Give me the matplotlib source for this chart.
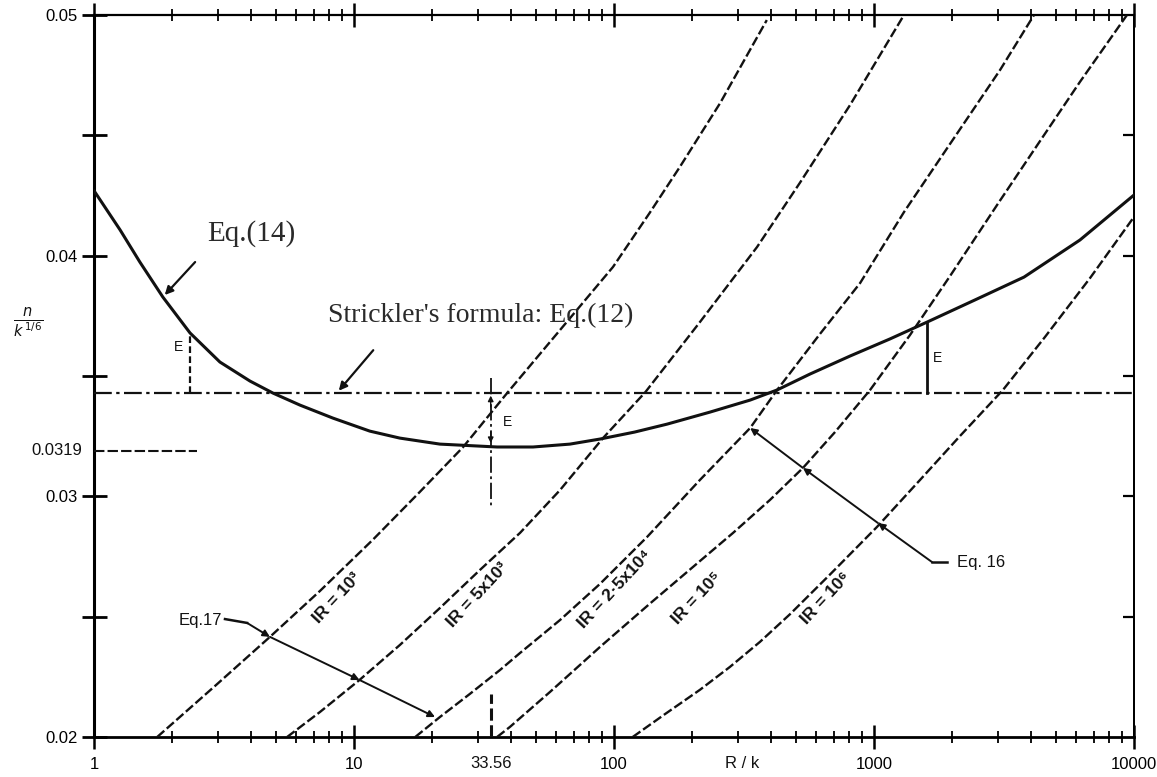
import matplotlib
matplotlib.use('Agg')  # no display
import matplotlib.pyplot as plt
from matplotlib.ticker import FixedLocator, LogLocator, NullFormatter

# Eq.(14): n / k^(1/6) against R / k
r_eq14 = [1, 1.26, 1.5, 1.84, 2.34, 3.05, 3.98, 4.88, 6.2, 8.3, 11.5, 15.0,
          21.4, 35.5, 48.8, 67.7, 88.3, 120, 160, 234, 334, 424, 567, 809,
          1152, 1600, 2445, 3776, 6195, 10000]
n_eq14 = [0.0427, 0.04107, 0.03974, 0.03828, 0.03679, 0.03558, 0.03479,
          0.03429, 0.03379, 0.03325, 0.03271, 0.03242, 0.03217, 0.03205,
          0.03205, 0.03217, 0.03238, 0.03267, 0.03300, 0.03350, 0.03400,
          0.03442, 0.03508, 0.03583, 0.03654, 0.03724, 0.03816, 0.03911,
          0.04065, 0.04252]

# Strickler's formula, Eq.(12)
strickler_n = 0.0343
n_min = 0.0319
r_min = 33.56

# Eq.16 family, one curve per IR value
ir_labels = ['IR = 10³', 'IR = 5x10³', 'IR = 2·5x10⁴', 'IR = 10⁵', 'IR = 10⁶']
r_ir1 = [1.75, 2.92, 4.75, 7.40, 11.8, 17.9, 26.3, 38.8, 62.0, 99.1, 137,
         179, 256, 387]
n_ir1 = [0.0200, 0.02212, 0.02416, 0.02607, 0.02819, 0.03018, 0.03205,
         0.03429, 0.03691, 0.03953, 0.04177, 0.04368, 0.04634, 0.04979]
r_ir2 = [5.53, 7.40, 10.5, 15.0, 21.4, 30.5, 43.5, 62.0, 90.7, 132, 214,
         355, 519, 809, 1304]
n_ir2 = [0.0200, 0.02104, 0.02237, 0.02382, 0.02536, 0.02694, 0.02848,
         0.03026, 0.03242, 0.03433, 0.03724, 0.04036, 0.04303, 0.04626, 0.0500]
r_ir3 = [17.2, 21.4, 27.9, 36.4, 43.5, 62.0, 88.3, 134, 214, 334, 424, 620,
         884, 1304, 1960, 3052, 4125]
n_ir3 = [0.0200, 0.02083, 0.02179, 0.02278, 0.02349, 0.02486, 0.02636,
         0.02831, 0.03068, 0.03284, 0.03442, 0.03675, 0.03886, 0.04181,
         0.04464, 0.04771, 0.0500]
r_ir4 = [35.5, 39.8, 56.7, 88.3, 137, 214, 287, 398, 533, 708, 966, 1375,
         1960, 3027, 4349, 6195, 9397]
n_ir4 = [0.0200, 0.02042, 0.02187, 0.02374, 0.02553, 0.02731, 0.02848,
         0.02985, 0.03118, 0.03267, 0.03442, 0.03670, 0.03915, 0.04223,
         0.04476, 0.04722, 0.0500]
r_ir5 = [118, 157, 214, 279, 364, 475, 677, 1027, 1503, 2143, 3133, 4545,
         6776, 10000]
n_ir5 = [0.0200, 0.02095, 0.02196, 0.02291, 0.02395, 0.02510, 0.02675,
         0.02873, 0.03068, 0.03251, 0.03442, 0.03662, 0.03907, 0.04161]

x_ticks = [1, 10, 100, 1000, 10000]
x_ticklabels = ['1', '10', '100', '1000', '10000']
y_ticks = [0.02, 0.025, 0.03, 0.035, 0.04, 0.045, 0.05]
y_ticklabels = ['0.02', '', '0.03', '', '0.04', '', '0.05']

SANS = ['Liberation Sans', 'DejaVu Sans']
SERIF = ['Liberation Serif', 'DejaVu Serif']
INK = '#111111'

fig = plt.figure(figsize=(11.57, 7.77), dpi=100)
ax = fig.add_axes([94 / 1157, 40 / 777, 1040 / 1157, 722 / 777])
ax.set_xscale('log')
ax.set_xlim(1, 10000)
ax.set_ylim(0.02, 0.05)

# curves
ax.plot(r_eq14, n_eq14, color=INK, lw=2.2, solid_capstyle='round',
        solid_joinstyle='round', zorder=4)
ax.axhline(strickler_n, color=INK, lw=1.6, linestyle=(0, (8, 2, 1.5, 2)), zorder=3)

ir_curves = [(r_ir1, n_ir1), (r_ir2, n_ir2), (r_ir3, n_ir3),
             (r_ir4, n_ir4), (r_ir5, n_ir5)]
for r, n in ir_curves:
    ax.plot(r, n, color=INK, lw=1.7, linestyle=(0, (4, 1.4)), zorder=3)

# curve labels sit on the curves
label_pos = [(8.6, 0.02575), (30.0, 0.0259), (101, 0.02615), (208, 0.02578), (650, 0.02578)]
for text, (xr, yn) in zip(ir_labels, label_pos):
    ax.text(xr, yn, text, rotation=47, ha='center', va='center', fontsize=12.5,
            fontweight='bold', family=SANS, color=INK, zorder=5,
            bbox=dict(facecolor='white', edgecolor='none', pad=0.5))

# 0.0319 marker on the left
ax.plot([1, 2.5], [n_min, n_min], color=INK, lw=1.5, linestyle=(0, (5, 1.5)), zorder=3)
ax.text(0.9, n_min, '0.0319', ha='right', va='center', fontsize=12,
        family=SANS, color=INK)

# E markers
ax.plot([2.33, 2.33], [strickler_n, 0.0368], color=INK, lw=1.6,
        linestyle=(0, (3, 1.5)), zorder=4)
ax.text(2.2, 0.0362, 'E', ha='right', va='center', fontsize=10, family=SANS, color=INK)

ax.plot([r_min, r_min], [0.0349, 0.0296], color=INK, lw=1.3,
        linestyle=(0, (9, 2, 1.5, 2)), zorder=4)
ax.annotate('', xy=(r_min, strickler_n), xytext=(r_min, 0.0336),
            arrowprops=dict(arrowstyle='-|>', color=INK, lw=1, mutation_scale=8))
ax.annotate('', xy=(r_min, 0.0321), xytext=(r_min, 0.0328),
            arrowprops=dict(arrowstyle='-|>', color=INK, lw=1, mutation_scale=8))
ax.text(37.5, 0.0331, 'E', ha='left', va='center', fontsize=10, family=SANS, color=INK)
ax.plot([r_min, r_min], [0.0200, 0.0218], color=INK, lw=2.2,
        linestyle=(0, (4, 1.5)), zorder=4)
ax.text(r_min, 0.0192, '33.56', ha='center', va='top', fontsize=12,
        family=SANS, color=INK)

ax.plot([1600, 1600], [strickler_n, 0.03724], color=INK, lw=2.0, zorder=4)
ax.text(1690, 0.03575, 'E', ha='left', va='center', fontsize=10, family=SANS, color=INK)

# Eq.(14) and Strickler labels
ax.text(2.72, 0.04094, 'Eq.(14)', ha='left', va='center', fontsize=21,
        family=SERIF, color='#2a2a2a')
ax.annotate('', xy=(1.84, 0.03828), xytext=(2.49, 0.03982),
            arrowprops=dict(arrowstyle='-|>', color=INK, lw=1.6, mutation_scale=12))
ax.text(7.94, 0.03753, "Strickler's formula: Eq.(12)", ha='left', va='center',
        fontsize=20, family=SERIF, color='#2a2a2a')
ax.annotate('', xy=(8.6, strickler_n), xytext=(12.05, 0.03616),
            arrowprops=dict(arrowstyle='-|>', color=INK, lw=1.6, mutation_scale=12))

# Eq.17 leader
ax.text(3.1, 0.02486, 'Eq.17', ha='right', va='center', fontsize=12,
        family=SANS, color=INK)
ax.plot([3.19, 3.88], [0.0249, 0.02474], color=INK, lw=1.8)
eq17_path = [(3.88, 0.02474), (4.75, 0.02416), (10.5, 0.02237), (20.5, 0.02083)]
for (x0, y0), (x1, y1) in zip(eq17_path[:-1], eq17_path[1:]):
    ax.annotate('', xy=(x1, y1), xytext=(x0, y0),
                arrowprops=dict(arrowstyle='-|>', color=INK, lw=1.4,
                                mutation_scale=10, shrinkA=0, shrinkB=0))

# Eq.16 leader
ax.text(2085, 0.02727, 'Eq. 16', ha='left', va='center', fontsize=12,
        family=SANS, color=INK)
ax.plot([1671, 1910], [0.02727, 0.02727], color=INK, lw=1.8)
eq16_path = [(1671, 0.02727), (1036, 0.02889), (533, 0.03118), (334, 0.03284)]
for (x0, y0), (x1, y1) in zip(eq16_path[:-1], eq16_path[1:]):
    ax.annotate('', xy=(x1, y1), xytext=(x0, y0),
                arrowprops=dict(arrowstyle='-|>', color=INK, lw=1.4,
                                mutation_scale=10, shrinkA=0, shrinkB=0))

# axes and ticks
ax.xaxis.set_major_locator(FixedLocator(x_ticks))
ax.set_xticklabels(x_ticklabels)
ax.xaxis.set_minor_locator(LogLocator(base=10, subs=range(2, 10)))
ax.xaxis.set_minor_formatter(NullFormatter())
ax.tick_params(axis='x', which='major', direction='inout', length=17, width=1.8,
               top=True, pad=6, labelsize=12)
ax.tick_params(axis='x', which='minor', direction='inout', length=8, width=1.3,
               top=True)
ax.set_yticks(y_ticks)
ax.set_yticklabels(y_ticklabels)
ax.tick_params(axis='y', which='major', direction='inout', length=18, width=2,
               right=False, pad=3, labelsize=12)
sec = ax.secondary_yaxis('right')
sec.set_yticks(y_ticks[1:-1])
sec.tick_params(direction='in', length=8, width=1.6, labelright=False)
sec.spines['right'].set_linewidth(1.4)
for lab in ax.get_xticklabels() + ax.get_yticklabels():
    lab.set_family(SANS)

ax.spines['left'].set_linewidth(2.2)
ax.spines['bottom'].set_linewidth(2.0)
ax.spines['top'].set_linewidth(1.6)
ax.spines['right'].set_linewidth(1.4)

ax.text(310, 0.0192, 'R / k', ha='center', va='top', fontsize=12,
        family=SANS, color=INK)
fig.text(0.024, 0.586, r'$\frac{n}{k^{\,1/6}}$', ha='center', va='center',
         fontsize=15, color=INK)

fig.savefig('out.png', dpi=100)
